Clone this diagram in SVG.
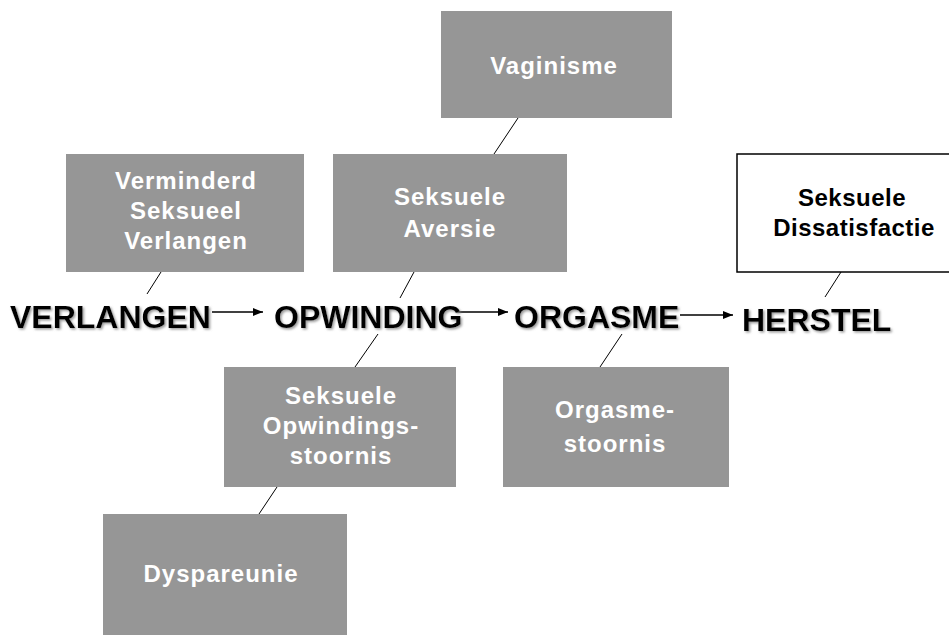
<svg xmlns="http://www.w3.org/2000/svg" width="949" height="635" viewBox="0 0 949 635">
<defs>
<style>
.box{fill:#969696;stroke:none}
.wbox{fill:#ffffff;stroke:#000000;stroke-width:1.5}
.bt{font-family:"Liberation Sans",Arial,sans-serif;font-weight:bold;font-size:24px;fill:#ffffff;text-anchor:middle;letter-spacing:1px}
.dt{font-family:"Liberation Sans",Arial,sans-serif;font-weight:bold;font-size:24px;fill:#000000;text-anchor:middle;letter-spacing:0.5px}
.main{font-family:"Liberation Sans",Arial,sans-serif;font-weight:bold;font-size:32px;fill:#000000;filter:url(#shadow)}
.ln{stroke:#000000;stroke-width:1;fill:none}
.ar{stroke:#000000;stroke-width:1.5;fill:none}
</style>
<filter id="shadow" x="-5%" y="-20%" width="115%" height="150%">
<feDropShadow dx="1.5" dy="1.5" stdDeviation="0.8" flood-color="#808080" flood-opacity="0.8"/>
</filter>
<marker id="ah" viewBox="0 0 10 8" refX="10" refY="4" markerWidth="10" markerHeight="8" markerUnits="userSpaceOnUse" orient="auto">
<path d="M0,0 L10,4 L0,8 Z" fill="#000000"/>
</marker>
</defs>
<rect width="949" height="635" fill="#ffffff"/>

<g id="connectors">
<line class="ln" x1="518" y1="118" x2="494" y2="154"/>
<line class="ln" x1="161" y1="272" x2="147" y2="294"/>
<line class="ln" x1="414" y1="272" x2="400" y2="298"/>
<line class="ln" x1="378" y1="334" x2="355" y2="367"/>
<line class="ln" x1="277" y1="487" x2="259" y2="514"/>
<line class="ln" x1="622" y1="334" x2="600" y2="367"/>
<line class="ln" x1="841" y1="272" x2="825" y2="297"/>
<line class="ar" x1="212" y1="312" x2="263" y2="312" marker-end="url(#ah)"/>
<line class="ar" x1="456" y1="312" x2="508" y2="312" marker-end="url(#ah)"/>
<line class="ar" x1="680" y1="315" x2="733" y2="315" marker-end="url(#ah)"/>
</g>

<g id="verlangen">
<text class="main" x="10" y="328">VERLANGEN</text>
</g>
<g id="opwinding">
<text class="main" x="274" y="328">OPWINDING</text>
</g>
<g id="orgasme">
<text class="main" x="514" y="328">ORGASME</text>
</g>
<g id="herstel">
<text class="main" x="742" y="331">HERSTEL</text>
</g>

<g id="vaginisme">
<rect class="box" x="441" y="11" width="231" height="107"/>
<text class="bt" x="554" y="74">Vaginisme</text>
</g>
<g id="verminderd">
<rect class="box" x="66" y="154" width="238" height="118"/>
<text class="bt" x="186" y="189">Verminderd</text>
<text class="bt" x="186" y="219">Seksueel</text>
<text class="bt" x="186" y="249">Verlangen</text>
</g>
<g id="aversie">
<rect class="box" x="333" y="154" width="234" height="118"/>
<text class="bt" x="450" y="205">Seksuele</text>
<text class="bt" x="450" y="237">Aversie</text>
</g>
<g id="dissatisfactie">
<rect class="wbox" x="737" y="154" width="230" height="118"/>
<text class="dt" x="852" y="206">Seksuele</text>
<text class="dt" x="854" y="236">Dissatisfactie</text>
</g>
<g id="opwindingsstoornis">
<rect class="box" x="224" y="367" width="232" height="120"/>
<text class="bt" x="341" y="404">Seksuele</text>
<text class="bt" x="341" y="434">Opwindings-</text>
<text class="bt" x="341" y="464">stoornis</text>
</g>
<g id="orgasmestoornis">
<rect class="box" x="503" y="367" width="226" height="120"/>
<text class="bt" x="615" y="418">Orgasme-</text>
<text class="bt" x="615" y="452">stoornis</text>
</g>
<g id="dyspareunie">
<rect class="box" x="103" y="514" width="244" height="125"/>
<text class="bt" x="221" y="582">Dyspareunie</text>
</g>
</svg>
